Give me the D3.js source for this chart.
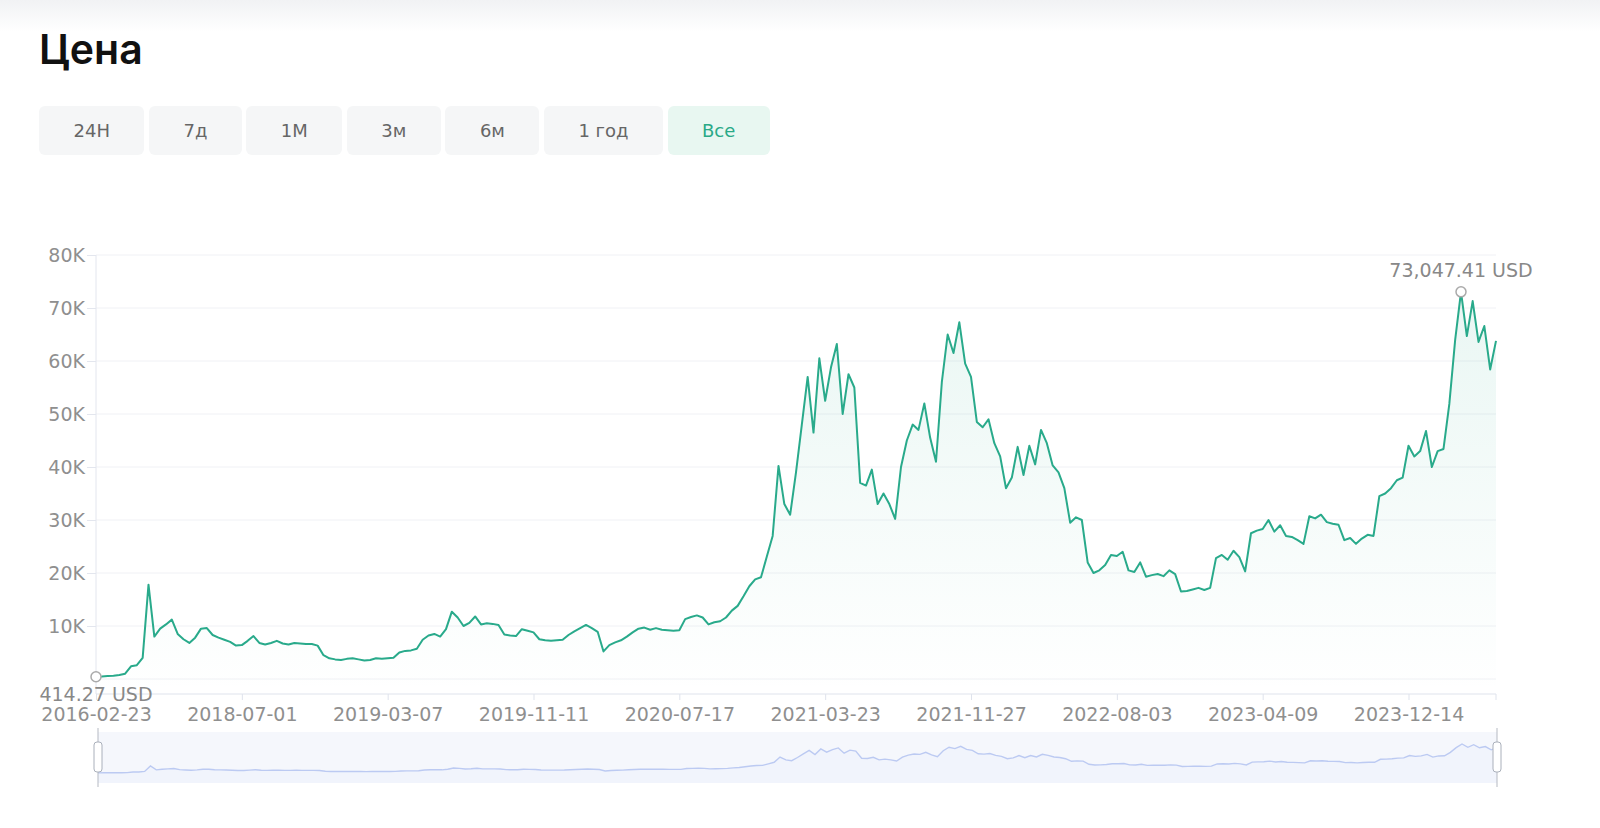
<!DOCTYPE html>
<html>
<head>
<meta charset="utf-8">
<script src="https://cdn.jsdelivr.net/npm/d3@7"></script>
<style>
  body { margin: 0; background: #fff; width: 1600px; height: 828px; overflow: hidden; font-family: "DejaVu Sans", sans-serif; }
  #chart { position: absolute; left: 0; top: 0; }
  .tabs { position: absolute; left: 39px; top: 106px; display: flex; gap: 4.5px; }
  .tab { height: 49px; line-height: 49px; padding: 0 34.5px; background: #f5f6f7; border-radius: 6px; color: #666; font-size: 18px; }
  .tab.active { background: #e8f7f1; color: #2aa987; }
</style>
</head>
<body>
<div id="chart"></div>
<div class="tabs"></div>
<script>
// range buttons
var tabs = ['24H', '7д', '1M', '3м', '6м', '1 год', 'Все'];
var activeTab = 'Все';

// x axis labels, one every 25 points
var tickLabels = ['2016-02-23', '2018-07-01', '2019-03-07', '2019-11-11', '2020-07-17',
                  '2021-03-23', '2021-11-27', '2022-08-03', '2023-04-09', '2023-12-14'];
var tickStep = 25;

var yTicks = [0, 10000, 20000, 30000, 40000, 50000, 60000, 70000, 80000];

// price, USD
var prices = [
  414.27, 450, 550, 600, 750, 1000, 2400, 2600, 4000, 17800,
  8000, 9500, 10300, 11200, 8500, 7500, 6800, 7800, 9500, 9600,
  8300, 7800, 7400, 7000, 6300, 6400, 7200, 8100, 6800, 6500,
  6800, 7200, 6700, 6500, 6800, 6700, 6600, 6600, 6300, 4500,
  3900, 3700, 3600, 3800, 3900, 3700, 3500, 3600, 3900, 3800,
  3900, 4000, 5000, 5300, 5400, 5700, 7400, 8200, 8500, 8000,
  9400, 12700, 11600, 10000, 10600, 11800, 10300, 10500, 10400, 10200,
  8400, 8200, 8100, 9400, 9100, 8800, 7500, 7300, 7200, 7300,
  7400, 8300, 9000, 9600, 10200, 9600, 8900, 5200, 6400, 6900,
  7300, 8000, 8800, 9500, 9700, 9300, 9600, 9300, 9200, 9100,
  9200, 11300, 11700, 12000, 11600, 10300, 10700, 10900, 11600, 12900,
  13800, 15600, 17500, 18800, 19200, 23100, 27000, 40200, 33000, 31000,
  39000, 48000, 57000, 46500, 60500, 52500, 58800, 63200, 50000, 57500,
  55000, 37000, 36500, 39500, 33000, 35000, 33000, 30200, 40000, 45000,
  48000, 47000, 52000, 45500, 41000, 56000, 65000, 61500, 67300, 59500,
  57000, 48500, 47500, 49000, 44500, 42000, 36000, 38000, 43800, 38500,
  44000, 40500, 47000, 44500, 40300, 39000, 36000, 29500, 30500, 30000,
  22000, 20000, 20500, 21500, 23400, 23200, 24000, 20500, 20200, 22000,
  19300, 19600, 19800, 19400, 20500, 19800, 16500, 16600, 16900, 17200,
  16800, 17200, 22800, 23400, 22500, 24200, 23000, 20300, 27500, 28000,
  28300, 30000, 27800, 29000, 27000, 26800, 26200, 25500, 30700, 30300,
  31000, 29600, 29300, 29100, 26200, 26600, 25500, 26500, 27200, 27000,
  34500, 35000, 36000, 37500, 38000, 44000, 42000, 43000, 46800, 40000,
  43000, 43400, 51900, 64000, 73047.41, 64700, 71300, 63600, 66600, 58400,
  63800
];

var lineColor = '#29aa8b';
var axisText = '#8f8f8f';

d3.select('.tabs').selectAll('.tab')
  .data(tabs)
  .enter().append('div')
  .attr('class', function(d) { return d === activeTab ? 'tab active' : 'tab'; })
  .text(function(d) { return d; });

var svg = d3.select('#chart').append('svg')
  .attr('width', 1600)
  .attr('height', 828);

var defs = svg.append('defs');
var topShade = defs.append('linearGradient').attr('id', 'topShade').attr('x1', 0).attr('y1', 0).attr('x2', 0).attr('y2', 1);
topShade.append('stop').attr('offset', '0%').attr('stop-color', '#f1f2f4');
topShade.append('stop').attr('offset', '100%').attr('stop-color', '#ffffff');
var areaFill = defs.append('linearGradient').attr('id', 'areaFill').attr('x1', 0).attr('y1', 0).attr('x2', 0).attr('y2', 1);
areaFill.append('stop').attr('offset', '0%').attr('stop-color', lineColor).attr('stop-opacity', 0.1);
areaFill.append('stop').attr('offset', '100%').attr('stop-color', lineColor).attr('stop-opacity', 0);

// grey band at the top of the page
svg.append('rect').attr('x', 0).attr('y', 0).attr('width', 1600).attr('height', 32).attr('fill', 'url(#topShade)');

svg.append('text')
  .attr('x', 39).attr('y', 64)
  .attr('font-family', 'Inter, sans-serif')
  .attr('font-weight', 600)
  .attr('font-size', 41)
  .attr('fill', '#111')
  .text('Цена');

// scales
var left = 96, right = 1496;
var x = d3.scaleLinear().domain([0, prices.length - 1]).range([left, right]);
var y = d3.scaleLinear().domain([0, 80000]).range([679, 255]);
var axisY = y(0) + 15;

// grid
svg.append('g').selectAll('line')
  .data(yTicks)
  .enter().append('line')
  .attr('x1', left).attr('x2', right)
  .attr('y1', function(d) { return y(d); })
  .attr('y2', function(d) { return y(d); })
  .attr('stroke', '#f0f1f5');

// y axis
var yAxis = svg.append('g')
  .attr('transform', 'translate(' + left + ',0)')
  .call(d3.axisLeft(y).tickValues(yTicks.slice(1)).tickSize(9).tickPadding(2)
    .tickFormat(function(d) { return d / 1000 + 'K'; }));
yAxis.select('.domain').remove();
yAxis.selectAll('line').attr('stroke', '#e3e6ee');
yAxis.selectAll('text').attr('fill', axisText).attr('font-size', 19).attr('font-family', 'DejaVu Sans, sans-serif');
svg.append('line').attr('x1', left).attr('x2', left).attr('y1', y(80000)).attr('y2', axisY).attr('stroke', '#e3e6ee');

// area + line
var area = d3.area()
  .x(function(d, i) { return x(i); })
  .y0(axisY)
  .y1(function(d) { return y(d); });
var line = d3.line()
  .x(function(d, i) { return x(i); })
  .y(function(d) { return y(d); });

svg.append('path').datum(prices).attr('d', area).attr('fill', 'url(#areaFill)');
svg.append('path').datum(prices).attr('d', line)
  .attr('fill', 'none').attr('stroke', lineColor).attr('stroke-width', 2).attr('stroke-linejoin', 'round');

// x axis
var tickIdx = tickLabels.map(function(d, i) { return i * tickStep; });
var xAxis = svg.append('g')
  .attr('transform', 'translate(0,' + axisY + ')')
  .call(d3.axisBottom(x).tickValues(tickIdx).tickSize(6).tickPadding(8)
    .tickFormat(function(d) { return tickLabels[d / tickStep]; }));
xAxis.select('.domain').attr('stroke', '#dfe3ec').attr('d', 'M' + left + ',0H' + right + 'V6');
xAxis.selectAll('line').attr('stroke', '#dfe3ec');
xAxis.selectAll('text').attr('fill', axisText).attr('font-size', 19).attr('font-family', 'DejaVu Sans, sans-serif');

// min / max markers
var fmt = d3.format(',.2f');
var iMax = d3.maxIndex(prices), iMin = d3.minIndex(prices);
var marks = [
  { i: iMax, dy: -15 },
  { i: iMin, dy: 24 }
];
marks.forEach(function(m) {
  svg.append('text')
    .attr('x', x(m.i)).attr('y', y(prices[m.i]) + m.dy)
    .attr('text-anchor', 'middle')
    .attr('fill', '#888')
    .attr('font-size', 19)
    .text(fmt(prices[m.i]) + ' USD');
  svg.append('circle')
    .attr('cx', x(m.i)).attr('cy', y(prices[m.i])).attr('r', 5)
    .attr('fill', '#fff').attr('stroke', '#aaa').attr('stroke-width', 1.5);
});

// overview slider
var sx = d3.scaleLinear().domain([0, prices.length - 1]).range([98, 1497]);
var sy = d3.scaleLinear().domain([0, d3.max(prices)]).range([773, 744]);
svg.append('rect').attr('x', 98).attr('y', 732).attr('width', 1399).attr('height', 51).attr('fill', '#f5f7fc');
svg.append('path').datum(prices)
  .attr('d', d3.area().x(function(d, i) { return sx(i); }).y0(783).y1(function(d) { return sy(d); }))
  .attr('fill', '#f1f4fc');
svg.append('path').datum(prices)
  .attr('d', d3.line().x(function(d, i) { return sx(i); }).y(function(d) { return sy(d); }))
  .attr('fill', 'none').attr('stroke', '#bccaf2').attr('stroke-width', 1.4);
[98, 1497].forEach(function(hx) {
  svg.append('line').attr('x1', hx).attr('x2', hx).attr('y1', 728).attr('y2', 787).attr('stroke', '#b5b9c2');
  svg.append('rect').attr('x', hx - 4).attr('y', 742).attr('width', 8).attr('height', 30).attr('rx', 3)
    .attr('fill', '#fff').attr('stroke', '#aab0bb');
});
</script>
</body>
</html>
